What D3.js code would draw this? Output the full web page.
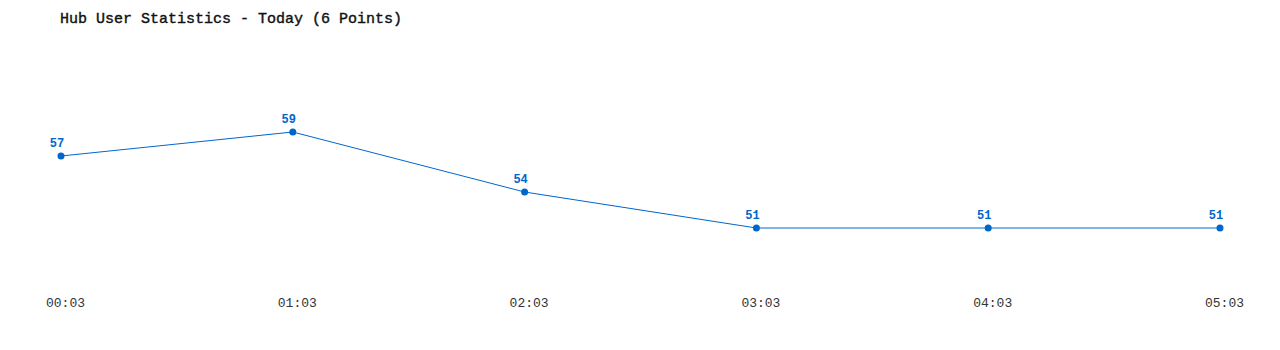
<!DOCTYPE html>
<html>
<head>
<meta charset="utf-8">
<title>Hub User Statistics</title>
<style>
  body { margin: 0; background: #fff; }
  svg text { font-family: "Liberation Mono", "DejaVu Sans Mono", monospace; }
</style>
</head>
<body>
<svg width="1280" height="350"></svg>
<script src="https://cdn.jsdelivr.net/npm/d3@7"></script>
<script>
var times = ["00:03", "01:03", "02:03", "03:03", "04:03", "05:03"];
var users = [57, 59, 54, 51, 51, 51];

var svg = d3.select("svg"),
    blue = "#0066cc";

var x = d3.scalePoint().domain(times).range([61, 1220]);
var y = d3.scaleLinear().domain([46, 62]).range([288, 96]);

svg.append("text")
    .attr("x", 60).attr("y", 23)
    .attr("font-size", 15)
    .attr("stroke", "#111").attr("stroke-width", 0.4)
    .attr("fill", "#111")
    .text("Hub User Statistics - Today (6 Points)");

var pts = times.map(function(t, i) { return { t: t, v: users[i] }; });

svg.append("path")
    .datum(pts)
    .attr("fill", "none")
    .attr("stroke", blue)
    .attr("stroke-width", 1)
    .attr("d", d3.line().x(function(d) { return x(d.t); }).y(function(d) { return y(d.v); }));

svg.selectAll("circle.pt")
    .data(pts)
    .enter().append("circle")
    .attr("class", "pt")
    .attr("cx", function(d) { return x(d.t); })
    .attr("cy", function(d) { return y(d.v); })
    .attr("r", 3.5)
    .attr("fill", blue);

svg.selectAll("text.val")
    .data(pts)
    .enter().append("text")
    .attr("class", "val")
    .attr("x", function(d) { return x(d.t) - 4; })
    .attr("y", function(d) { return y(d.v) - 9; })
    .attr("text-anchor", "middle")
    .attr("font-size", 12).attr("font-weight", "bold")
    .attr("fill", blue)
    .text(function(d) { return d.v; });

var axis = svg.append("g")
    .attr("transform", "translate(4,307)")
    .call(d3.axisBottom(x).tickSize(0).tickPadding(0));
axis.select(".domain").remove();
axis.selectAll("text")
    .attr("font-size", 13)
    .attr("fill", "#333")
    .attr("dy", 0)
    .style("font-family", "'Liberation Mono', 'DejaVu Sans Mono', monospace");
</script>
</body>
</html>
